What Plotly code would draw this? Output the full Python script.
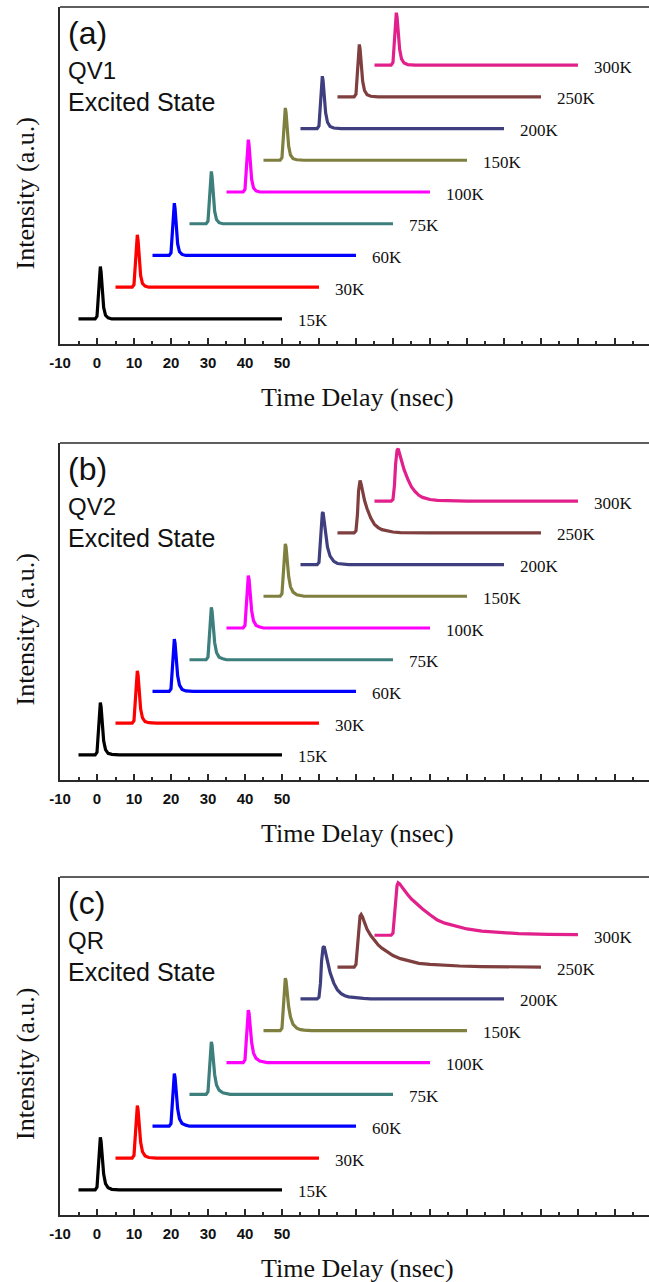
import plotly.graph_objects as go

# ---------------- data ----------------
temps = ["15K", "30K", "60K", "75K", "100K", "150K", "200K", "250K", "300K"]
colors = ["#000000", "#ff0000", "#0000ff", "#3d7f7c", "#ff00ff",
          "#7f7f3f", "#3f3f7f", "#7f3f3f", "#e2208b"]
x_shift = [0, 10, 20, 30, 40, 50, 60, 70, 80]      # waterfall shift (ns)
y_offset = [0, 1, 2, 3, 4, 5, 6, 7, 8]             # waterfall offset

# relative time grid (ns)
t_rel = [-5, -0.5, 0, 0.4, 0.7, 0.9, 1.1, 1.4, 1.8, 2.3, 3, 4, 5, 6, 7, 8,
         10, 12, 14, 17, 20, 24, 28, 34, 42, 50]

# normalised intensities (one row per temperature)
qv1_intensity = [
    [0, 0, 0.05, 0.45, 0.9, 1.0, 0.9, 0.55, 0.22, 0.07, 0.02, 0, 0, 0, 0, 0, 0, 0, 0, 0, 0, 0, 0, 0, 0, 0],
    [0, 0, 0.05, 0.45, 0.9, 1.0, 0.9, 0.55, 0.22, 0.07, 0.02, 0, 0, 0, 0, 0, 0, 0, 0, 0, 0, 0, 0, 0, 0, 0],
    [0, 0, 0.05, 0.45, 0.9, 1.0, 0.9, 0.55, 0.22, 0.07, 0.02, 0, 0, 0, 0, 0, 0, 0, 0, 0, 0, 0, 0, 0, 0, 0],
    [0, 0, 0.05, 0.45, 0.9, 1.0, 0.9, 0.57, 0.24, 0.08, 0.02, 0, 0, 0, 0, 0, 0, 0, 0, 0, 0, 0, 0, 0, 0, 0],
    [0, 0, 0.05, 0.45, 0.9, 1.0, 0.9, 0.57, 0.24, 0.08, 0.02, 0, 0, 0, 0, 0, 0, 0, 0, 0, 0, 0, 0, 0, 0, 0],
    [0, 0, 0.05, 0.45, 0.9, 1.0, 0.91, 0.6, 0.27, 0.1, 0.03, 0.01, 0, 0, 0, 0, 0, 0, 0, 0, 0, 0, 0, 0, 0, 0],
    [0, 0, 0.05, 0.45, 0.9, 1.0, 0.92, 0.62, 0.3, 0.12, 0.04, 0.01, 0, 0, 0, 0, 0, 0, 0, 0, 0, 0, 0, 0, 0, 0],
    [0, 0, 0.05, 0.45, 0.9, 1.0, 0.92, 0.62, 0.3, 0.12, 0.04, 0.01, 0, 0, 0, 0, 0, 0, 0, 0, 0, 0, 0, 0, 0, 0],
    [0, 0, 0.05, 0.45, 0.9, 1.0, 0.92, 0.62, 0.3, 0.12, 0.04, 0.01, 0, 0, 0, 0, 0, 0, 0, 0, 0, 0, 0, 0, 0, 0],
]
qv2_intensity = [
    [0, 0, 0.05, 0.45, 0.9, 1.0, 0.92, 0.6, 0.27, 0.1, 0.03, 0.01, 0, 0, 0, 0, 0, 0, 0, 0, 0, 0, 0, 0, 0, 0],
    [0, 0, 0.05, 0.45, 0.9, 1.0, 0.92, 0.6, 0.27, 0.1, 0.03, 0.01, 0, 0, 0, 0, 0, 0, 0, 0, 0, 0, 0, 0, 0, 0],
    [0, 0, 0.05, 0.45, 0.9, 1.0, 0.92, 0.62, 0.3, 0.12, 0.04, 0.01, 0, 0, 0, 0, 0, 0, 0, 0, 0, 0, 0, 0, 0, 0],
    [0, 0, 0.05, 0.45, 0.9, 1.0, 0.93, 0.64, 0.33, 0.14, 0.05, 0.02, 0, 0, 0, 0, 0, 0, 0, 0, 0, 0, 0, 0, 0, 0],
    [0, 0, 0.05, 0.45, 0.9, 1.0, 0.93, 0.64, 0.33, 0.14, 0.05, 0.02, 0, 0, 0, 0, 0, 0, 0, 0, 0, 0, 0, 0, 0, 0],
    [0, 0, 0.05, 0.45, 0.9, 1.0, 0.94, 0.68, 0.38, 0.18, 0.08, 0.03, 0.01, 0, 0, 0, 0, 0, 0, 0, 0, 0, 0, 0, 0, 0],
    [0, 0, 0.04, 0.4, 0.85, 0.98, 1.0, 0.83, 0.55, 0.33, 0.16, 0.06, 0.02, 0.01, 0, 0, 0, 0, 0, 0, 0, 0, 0, 0, 0, 0],
    [0, 0, 0.04, 0.35, 0.8, 0.95, 1.0, 0.93, 0.78, 0.62, 0.46, 0.28, 0.16, 0.1, 0.06, 0.04, 0.015, 0.005, 0, 0, 0, 0, 0, 0, 0, 0],
    [0, 0, 0.03, 0.3, 0.7, 0.88, 0.97, 1.0, 0.9, 0.78, 0.6, 0.42, 0.27, 0.18, 0.11, 0.07, 0.03, 0.015, 0.01, 0, 0, 0, 0, 0, 0, 0],
]
qr_intensity = [
    [0, 0, 0.05, 0.45, 0.9, 1.0, 0.92, 0.62, 0.3, 0.12, 0.04, 0.01, 0, 0, 0, 0, 0, 0, 0, 0, 0, 0, 0, 0, 0, 0],
    [0, 0, 0.05, 0.45, 0.9, 1.0, 0.92, 0.62, 0.3, 0.12, 0.04, 0.01, 0, 0, 0, 0, 0, 0, 0, 0, 0, 0, 0, 0, 0, 0],
    [0, 0, 0.05, 0.45, 0.9, 1.0, 0.93, 0.64, 0.33, 0.14, 0.05, 0.02, 0, 0, 0, 0, 0, 0, 0, 0, 0, 0, 0, 0, 0, 0],
    [0, 0, 0.05, 0.45, 0.9, 1.0, 0.94, 0.68, 0.38, 0.18, 0.08, 0.03, 0.01, 0, 0, 0, 0, 0, 0, 0, 0, 0, 0, 0, 0, 0],
    [0, 0, 0.05, 0.45, 0.9, 1.0, 0.94, 0.68, 0.38, 0.18, 0.08, 0.03, 0.01, 0, 0, 0, 0, 0, 0, 0, 0, 0, 0, 0, 0, 0],
    [0, 0, 0.05, 0.45, 0.9, 1.0, 0.95, 0.73, 0.46, 0.26, 0.12, 0.05, 0.02, 0.01, 0, 0, 0, 0, 0, 0, 0, 0, 0, 0, 0, 0],
    [0, 0, 0.03, 0.3, 0.72, 0.9, 0.98, 1.0, 0.88, 0.7, 0.5, 0.3, 0.17, 0.1, 0.06, 0.04, 0.02, 0.01, 0, 0, 0, 0, 0, 0, 0, 0],
    [0, 0, 0.05, 0.4, 0.75, 0.9, 0.97, 1.0, 0.95, 0.85, 0.72, 0.6, 0.5, 0.42, 0.36, 0.31, 0.22, 0.16, 0.12, 0.07, 0.05, 0.03, 0.02, 0.01, 0.005, 0],
    [0, 0, 0.04, 0.35, 0.7, 0.85, 0.95, 1.0, 0.98, 0.93, 0.86, 0.77, 0.69, 0.62, 0.56, 0.5, 0.39, 0.29, 0.23, 0.17, 0.12, 0.08, 0.06, 0.03, 0.015, 0.01],
]

panel_letters = ["(a)", "(b)", "(c)"]
samples = ["QV1", "QV2", "QR"]
state_label = "Excited State"
major_ticks = [-10, 0, 10, 20, 30, 40, 50, 60, 70, 80, 90, 100, 110, 120, 130, 140]
major_text = ["-10", "0", "10", "20", "30", "40", "50"] + [""] * 9

# ---------------- layout helpers ----------------
W, H = 649, 1282
ML = 60
peak_scale = 1.65
panel_px = [(7, 344), (443, 780), (877, 1215)]   # top, bottom in pixels
sans = "Liberation Sans, Arial, sans-serif"
serif = "Liberation Serif, Times New Roman, serif"
axis_col = "#2a2a2a"


def py(p):
    return 1 - p / H


def px(p):
    return (p - ML) / (W - ML)


fig = go.Figure()
annotations = []
shapes = []
layout_axes = {}

panels = [qv1_intensity, qv2_intensity, qr_intensity]
for k, rows in enumerate(panels):
    sfx = "" if k == 0 else str(k + 1)
    xa, ya = "x" + sfx, "y" + sfx
    for i, row in enumerate(rows):
        xs = [t + x_shift[i] for t in t_rel]
        ys = [y_offset[i] + peak_scale * v for v in row]
        fig.add_trace(go.Scatter(x=xs, y=ys, mode="lines", xaxis=xa, yaxis=ya,
                                 line=dict(color=colors[i], width=3.2),
                                 showlegend=False, hoverinfo="skip"))
        annotations.append(dict(x=t_rel[-1] + x_shift[i] + 3.8, y=y_offset[i],
                                xref=xa, yref=ya, text=temps[i], showarrow=False,
                                xanchor="left", yanchor="middle", yshift=-2,
                                font=dict(family=serif, size=17, color="#111")))
    top, bot = panel_px[k]
    dom = [py(bot), py(top)]
    layout_axes["xaxis" + sfx] = dict(
        domain=[0, 1], range=[-10, 149.2], anchor=ya,
        showline=True, linewidth=2, linecolor=axis_col, showgrid=False, zeroline=False,
        tickmode="array", tickvals=major_ticks,
        ticktext=["<b>%s</b>" % s if s else "" for s in major_text],
        ticks="inside", ticklen=6, tickwidth=1.5, tickcolor=axis_col,
        ticklabelstandoff=4,
        tickfont=dict(family=sans, size=15, color="#111"),
        minor=dict(tickmode="linear", tick0=-10, dtick=5, ticks="inside",
                   ticklen=3, tickwidth=1.5, tickcolor=axis_col),
        fixedrange=True)
    layout_axes["yaxis" + sfx] = dict(
        domain=dom, range=[-0.79, 9.83], anchor=xa,
        showline=True, linewidth=2, linecolor=axis_col, showgrid=False, zeroline=False,
        showticklabels=False, ticks="", fixedrange=True)
    # top frame line
    shapes.append(dict(type="line", xref="paper", yref="paper", x0=0, x1=1,
                       y0=py(top), y1=py(top), line=dict(color=axis_col, width=1.5)))
    # panel texts
    for txt, dy, size in [(panel_letters[k], 26, 32), (samples[k], 63, 24), (state_label, 95, 25)]:
        annotations.append(dict(x=px(66), y=py(top + dy), xref="paper", yref="paper",
                                text=txt, showarrow=False, xanchor="left", yanchor="middle",
                                font=dict(family=sans, size=size, color="#111")))
    # axis titles
    annotations.append(dict(x=px(357), y=py(bot + 53), xref="paper", yref="paper",
                            text="Time Delay (nsec)", showarrow=False,
                            xanchor="center", yanchor="middle",
                            font=dict(family=serif, size=26, color="#111")))
    annotations.append(dict(x=px(25), y=py((top + bot) / 2 + 18), xref="paper", yref="paper",
                            text="Intensity (a.u.)", showarrow=False, textangle=-90,
                            xanchor="center", yanchor="middle",
                            font=dict(family=serif, size=26, color="#111")))

fig.update_layout(width=W, height=H, margin=dict(l=ML, r=0, t=0, b=0),
                  paper_bgcolor="white", plot_bgcolor="white",
                  annotations=annotations, shapes=shapes, **layout_axes)
fig.write_html("out.html", config={"displayModeBar": False})
